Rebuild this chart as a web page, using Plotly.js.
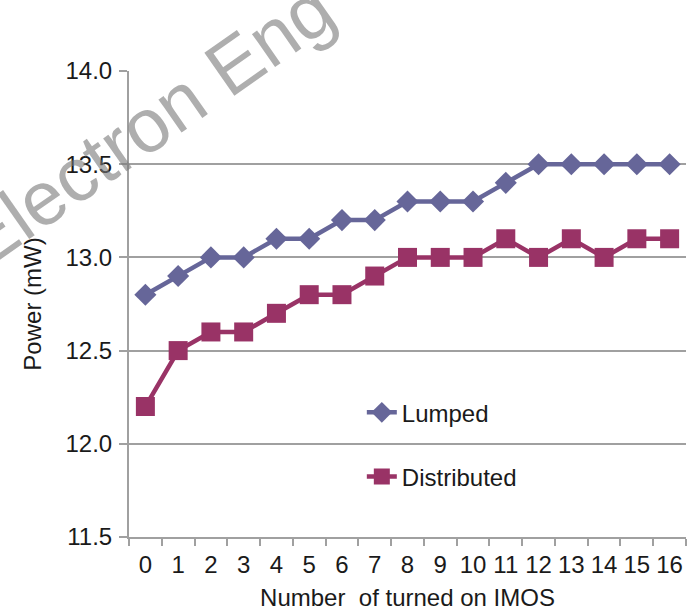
<!DOCTYPE html>
<html>
<head>
<meta charset="utf-8">
<script src="https://cdn.plot.ly/plotly-3.0.1.min.js"></script>
<style>html,body{margin:0;padding:0;background:#fff;}#chart{width:694px;height:611px;}</style>
</head>
<body>
<div id="chart"></div>
<script>
const categories = ['0','1','2','3','4','5','6','7','8','9','10','11','12','13','14','15','16'];
const lumped = [12.8,12.9,13.0,13.0,13.1,13.1,13.2,13.2,13.3,13.3,13.3,13.4,13.5,13.5,13.5,13.5,13.5];
const distributed = [12.2,12.5,12.6,12.6,12.7,12.8,12.8,12.9,13.0,13.0,13.0,13.1,13.0,13.1,13.0,13.1,13.1];
const yTicks = [11.5,12.0,12.5,13.0,13.5,14.0];

const font = 'Arial, "Liberation Sans", sans-serif';
const txt = '#1a1a1a';
const fs = 24;

const traces = [
  {x: categories, y: lumped, name: 'Lumped', type: 'scatter', mode: 'lines+markers',
   legendgroup: 'a',
   line: {color: '#666699', width: 4.5},
   marker: {symbol: 'diamond', size: 17, color: '#666699'}},
  {x: categories, y: distributed, name: 'Distributed', type: 'scatter', mode: 'lines+markers',
   legendgroup: 'b',
   line: {color: '#993366', width: 4.5},
   marker: {symbol: 'square', size: 19, color: '#993366'}}
];

const layout = {
  width: 694, height: 611,
  margin: {l: 129, r: 8, t: 71, b: 74},
  paper_bgcolor: '#ffffff', plot_bgcolor: '#ffffff',
  font: {family: font, size: fs, color: txt},
  showlegend: true,
  legend: {x: 0.418, y: 0.315, xanchor: 'left', yanchor: 'top',
           bgcolor: 'rgba(0,0,0,0)', font: {family: font, size: fs, color: txt},
           traceorder: 'grouped', tracegroupgap: 30},
  xaxis: {type: 'category', range: [-0.5, 16.5], tickson: 'boundaries',
          tickangle: 0, ticklabelstandoff: 5,
          ticks: 'outside', ticklen: 7, tickwidth: 2, tickcolor: '#a0a0a0',
          showline: true, linecolor: '#a0a0a0', linewidth: 2,
          showgrid: false, zeroline: false,
          tickfont: {family: font, size: fs, color: txt},
          title: {text: 'Number  of turned on IMOS', font: {family: font, size: fs, color: txt}, standoff: 12}},
  yaxis: {range: [11.5, 14.0], tickvals: yTicks, ticktext: yTicks.map(v => v.toFixed(1)),
          ticks: 'outside', ticklen: 8, tickwidth: 2, tickcolor: '#a0a0a0',
          showline: true, linecolor: '#a0a0a0', linewidth: 2,
          showgrid: true, gridcolor: '#a0a0a0', gridwidth: 2, zeroline: false,
          ticklabelstandoff: 2,
          tickfont: {family: font, size: fs, color: txt},
          title: {text: 'Power (mW)', font: {family: font, size: fs, color: txt}, standoff: 17}},
  annotations: [
    {text: 'Electron Eng', xref: 'paper', yref: 'paper', x: 0.032, y: 0.885,
     xanchor: 'center', yanchor: 'middle',
     showarrow: false, textangle: -35,
     font: {family: font, size: 76, color: 'rgba(120,120,120,0.6)'}}
  ]
};

Plotly.newPlot('chart', traces, layout, {displayModeBar: false, staticPlot: true});
</script>
</body>
</html>
